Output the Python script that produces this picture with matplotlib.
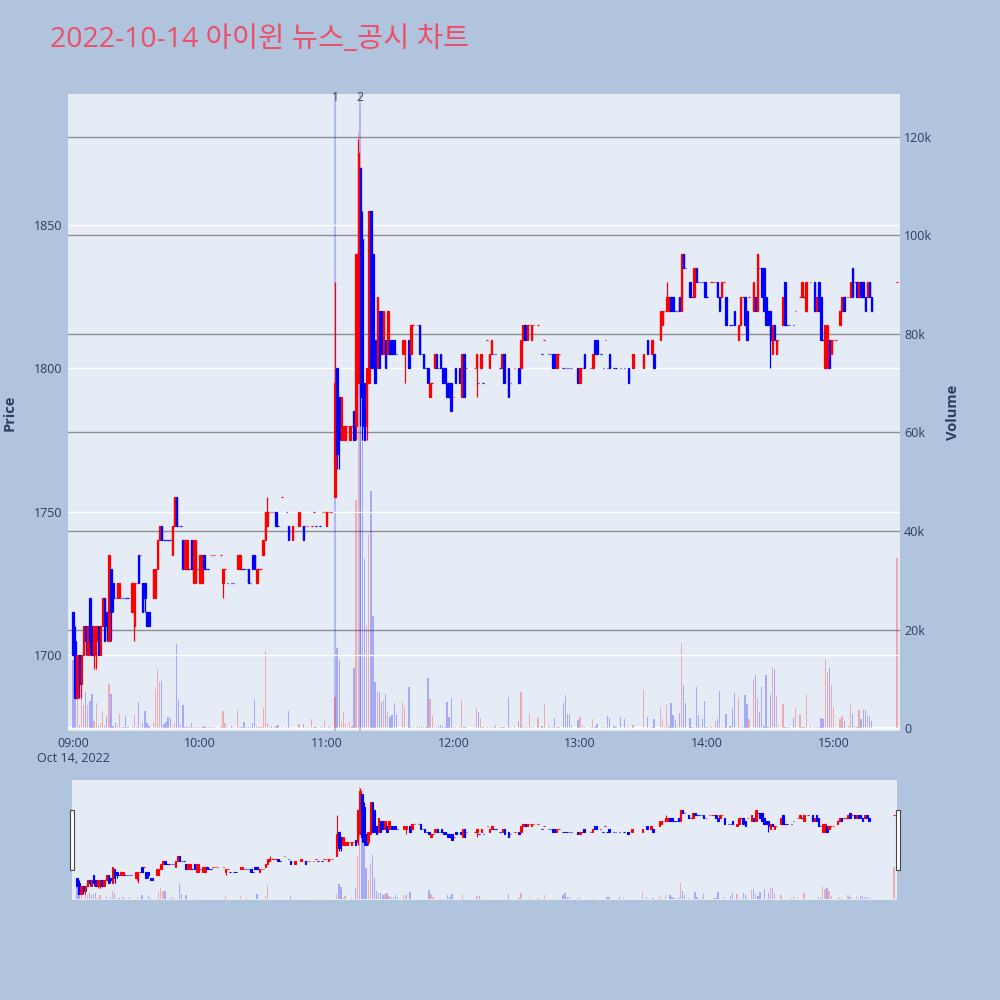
import numpy as np
import pandas as pd
import matplotlib
matplotlib.use("Agg")
import matplotlib.pyplot as plt
import matplotlib.dates as mdates
import matplotlib.transforms as mtransforms
from matplotlib.patches import Rectangle

# ---------------- data (1-minute candles, 2022-10-14) ----------------
trade_date = "2022-10-14"
title_text = "2022-10-14 아이윈 뉴스_공시 차트"

times = [
    "09:00", "09:01", "09:02", "09:03", "09:04", "09:05", "09:06", "09:07", "09:08", "09:09",
    "09:10", "09:11", "09:12", "09:13", "09:14", "09:15", "09:16", "09:17", "09:18", "09:19",
    "09:20", "09:21", "09:22", "09:23", "09:24", "09:25", "09:26", "09:28", "09:29", "09:30",
    "09:31", "09:32", "09:33", "09:34", "09:35", "09:36", "09:38", "09:39", "09:40", "09:41",
    "09:42", "09:43", "09:44", "09:45", "09:46", "09:47", "09:48", "09:49", "09:50", "09:51",
    "09:52", "09:53", "09:54", "09:55", "09:56", "09:57", "09:58", "09:59", "10:00", "10:01",
    "10:02", "10:03", "10:04", "10:05", "10:06", "10:07", "10:10", "10:11", "10:12", "10:13",
    "10:15", "10:16", "10:18", "10:19", "10:20", "10:21", "10:22", "10:23", "10:24", "10:25",
    "10:26", "10:27", "10:28", "10:29", "10:30", "10:31", "10:32", "10:33", "10:34", "10:35",
    "10:36", "10:37", "10:39", "10:41", "10:42", "10:44", "10:47", "10:49", "10:50", "10:51",
    "10:53", "10:54", "10:55", "10:57", "10:58", "10:59", "11:00", "11:01", "11:02", "11:04",
    "11:05", "11:06", "11:07", "11:08", "11:09", "11:10", "11:11", "11:12", "11:13", "11:14",
    "11:15", "11:16", "11:17", "11:18", "11:19", "11:20", "11:21", "11:22", "11:23", "11:24",
    "11:25", "11:26", "11:27", "11:28", "11:29", "11:30", "11:31", "11:32", "11:33", "11:36",
    "11:37", "11:39", "11:40", "11:41", "11:43", "11:44", "11:45", "11:46", "11:47", "11:48",
    "11:49", "11:50", "11:51", "11:52", "11:53", "11:54", "11:55", "11:56", "11:57", "11:58",
    "11:59", "12:00", "12:01", "12:03", "12:04", "12:05", "12:06", "12:10", "12:11", "12:12",
    "12:13", "12:14", "12:16", "12:17", "12:18", "12:19", "12:20", "12:22", "12:23", "12:24",
    "12:26", "12:27", "12:29", "12:31", "12:32", "12:33", "12:34", "12:35", "12:36", "12:37",
    "12:38", "12:40", "12:42", "12:43", "12:45", "12:46", "12:47", "12:48", "12:49", "12:50",
    "12:52", "12:53", "12:54", "12:55", "12:56", "12:59", "13:00", "13:01", "13:02", "13:05",
    "13:06", "13:07", "13:08", "13:10", "13:11", "13:12", "13:13", "13:14", "13:16", "13:17",
    "13:19", "13:21", "13:23", "13:25", "13:30", "13:32", "13:34", "13:35", "13:38", "13:39",
    "13:40", "13:41", "13:42", "13:43", "13:44", "13:45", "13:46", "13:47", "13:48", "13:49",
    "13:50", "13:52", "13:53", "13:54", "13:55", "13:56", "13:57", "13:58", "13:59", "14:00",
    "14:02", "14:03", "14:04", "14:05", "14:06", "14:07", "14:08", "14:09", "14:11", "14:12",
    "14:13", "14:15", "14:16", "14:17", "14:18", "14:19", "14:20", "14:22", "14:23", "14:24",
    "14:25", "14:26", "14:27", "14:28", "14:29", "14:30", "14:31", "14:32", "14:33", "14:34",
    "14:36", "14:37", "14:38", "14:39", "14:41", "14:42", "14:44", "14:45", "14:46", "14:47",
    "14:49", "14:51", "14:52", "14:53", "14:54", "14:55", "14:56", "14:57", "14:58", "14:59",
    "15:00", "15:01", "15:03", "15:04", "15:05", "15:06", "15:07", "15:08", "15:09", "15:10",
    "15:11", "15:12", "15:13", "15:14", "15:15", "15:16", "15:17", "15:18", "15:30",
]

opens = [
    1715, 1705, 1685, 1700, 1690, 1700, 1710, 1700, 1720, 1710,
    1700, 1705, 1710, 1700, 1710, 1720, 1715, 1705, 1730, 1725,
    1720, 1720, 1720, 1720, 1720, 1720, 1720, 1715, 1710, 1725,
    1735, 1735, 1725, 1725, 1715, 1715, 1720, 1720, 1730, 1740,
    1745, 1740, 1740, 1740, 1740, 1735, 1745, 1755, 1745, 1745,
    1740, 1730, 1730, 1730, 1740, 1725, 1725, 1730, 1725, 1725,
    1735, 1730, 1730, 1735, 1735, 1735, 1735, 1725, 1730, 1725,
    1725, 1725, 1730, 1730, 1730, 1730, 1730, 1730, 1725, 1735,
    1735, 1725, 1730, 1730, 1735, 1740, 1745, 1750, 1750, 1750,
    1750, 1745, 1755, 1750, 1745, 1740, 1745, 1745, 1745, 1745,
    1745, 1750, 1745, 1745, 1750, 1750, 1745, 1750, 1750, 1755,
    1800, 1790, 1775, 1775, 1775, 1780, 1775, 1780, 1785, 1780,
    1795, 1870, 1845, 1795, 1780, 1795, 1855, 1840, 1810, 1800,
    1820, 1820, 1805, 1810, 1805, 1810, 1810, 1810, 1805, 1805,
    1805, 1810, 1805, 1815, 1815, 1815, 1805, 1805, 1800, 1800,
    1790, 1795, 1800, 1805, 1800, 1805, 1800, 1800, 1795, 1795,
    1795, 1790, 1800, 1800, 1790, 1805, 1800, 1800, 1800, 1795,
    1800, 1795, 1810, 1800, 1805, 1805, 1805, 1800, 1800, 1805,
    1800, 1795, 1800, 1800, 1800, 1810, 1815, 1810, 1815, 1810,
    1815, 1815, 1805, 1810, 1805, 1805, 1805, 1805, 1800, 1805,
    1800, 1800, 1800, 1800, 1800, 1800, 1795, 1800, 1805, 1800,
    1800, 1810, 1810, 1805, 1800, 1810, 1800, 1805, 1800, 1800,
    1800, 1800, 1800, 1800, 1800, 1810, 1805, 1805, 1810, 1815,
    1820, 1820, 1820, 1825, 1825, 1820, 1820, 1825, 1820, 1840,
    1835, 1830, 1825, 1825, 1835, 1830, 1830, 1830, 1830, 1825,
    1830, 1830, 1830, 1830, 1825, 1825, 1830, 1825, 1815, 1815,
    1820, 1810, 1815, 1825, 1825, 1820, 1825, 1820, 1825, 1820,
    1835, 1835, 1835, 1825, 1820, 1820, 1805, 1815, 1805, 1810,
    1815, 1830, 1815, 1815, 1815, 1820, 1825, 1825, 1825, 1820,
    1830, 1830, 1820, 1830, 1825, 1810, 1800, 1800, 1810, 1805,
    1810, 1810, 1815, 1820, 1825, 1825, 1825, 1825, 1835, 1830,
    1830, 1825, 1830, 1830, 1825, 1825, 1830, 1825, 1830,
]

highs = [
    1715, 1710, 1700, 1700, 1700, 1710, 1710, 1710, 1720, 1710,
    1710, 1710, 1710, 1710, 1720, 1720, 1715, 1735, 1730, 1725,
    1720, 1725, 1725, 1720, 1720, 1720, 1720, 1725, 1725, 1725,
    1735, 1735, 1725, 1725, 1715, 1715, 1730, 1730, 1740, 1745,
    1745, 1740, 1740, 1740, 1740, 1745, 1755, 1755, 1745, 1745,
    1740, 1740, 1740, 1730, 1740, 1740, 1740, 1730, 1735, 1735,
    1735, 1730, 1730, 1735, 1735, 1735, 1735, 1730, 1730, 1725,
    1725, 1725, 1735, 1735, 1730, 1730, 1730, 1730, 1725, 1735,
    1735, 1730, 1730, 1730, 1740, 1750, 1755, 1750, 1750, 1750,
    1750, 1745, 1755, 1750, 1745, 1745, 1750, 1745, 1745, 1745,
    1745, 1750, 1745, 1745, 1750, 1750, 1750, 1750, 1750, 1830,
    1800, 1790, 1790, 1780, 1780, 1780, 1780, 1780, 1785, 1840,
    1880, 1870, 1855, 1795, 1800, 1855, 1855, 1840, 1810, 1825,
    1820, 1820, 1820, 1810, 1820, 1810, 1810, 1810, 1805, 1810,
    1810, 1810, 1815, 1815, 1815, 1815, 1805, 1805, 1800, 1800,
    1795, 1795, 1805, 1805, 1800, 1805, 1800, 1800, 1795, 1795,
    1795, 1790, 1800, 1800, 1805, 1805, 1800, 1800, 1805, 1795,
    1805, 1795, 1810, 1805, 1810, 1805, 1805, 1800, 1805, 1805,
    1800, 1795, 1800, 1800, 1810, 1815, 1815, 1815, 1815, 1815,
    1815, 1815, 1805, 1810, 1805, 1805, 1805, 1805, 1805, 1805,
    1800, 1800, 1800, 1800, 1800, 1800, 1800, 1800, 1805, 1800,
    1805, 1810, 1810, 1805, 1800, 1810, 1800, 1805, 1800, 1800,
    1800, 1800, 1800, 1805, 1805, 1810, 1810, 1805, 1820, 1820,
    1820, 1830, 1825, 1825, 1825, 1820, 1820, 1825, 1840, 1840,
    1835, 1830, 1825, 1835, 1835, 1830, 1830, 1830, 1830, 1825,
    1830, 1830, 1830, 1830, 1825, 1830, 1830, 1825, 1815, 1815,
    1820, 1815, 1825, 1825, 1825, 1820, 1825, 1830, 1825, 1840,
    1835, 1835, 1835, 1825, 1820, 1820, 1815, 1815, 1810, 1810,
    1825, 1830, 1815, 1815, 1815, 1820, 1825, 1830, 1825, 1830,
    1830, 1830, 1825, 1830, 1825, 1810, 1815, 1815, 1810, 1810,
    1810, 1810, 1820, 1825, 1825, 1825, 1825, 1830, 1835, 1830,
    1830, 1830, 1830, 1830, 1825, 1830, 1830, 1825, 1830,
]

lows = [
    1700, 1685, 1685, 1685, 1685, 1700, 1700, 1700, 1700, 1700,
    1695, 1695, 1700, 1700, 1710, 1705, 1705, 1705, 1705, 1715,
    1720, 1720, 1720, 1720, 1720, 1720, 1720, 1715, 1705, 1725,
    1725, 1735, 1715, 1715, 1710, 1710, 1720, 1720, 1730, 1740,
    1740, 1740, 1740, 1740, 1740, 1735, 1745, 1745, 1745, 1745,
    1730, 1730, 1730, 1730, 1730, 1725, 1725, 1730, 1725, 1725,
    1730, 1730, 1730, 1735, 1735, 1735, 1735, 1720, 1730, 1725,
    1725, 1725, 1730, 1730, 1730, 1730, 1730, 1725, 1725, 1730,
    1730, 1725, 1730, 1730, 1735, 1740, 1745, 1750, 1750, 1750,
    1745, 1745, 1755, 1750, 1740, 1740, 1745, 1740, 1745, 1745,
    1745, 1750, 1745, 1745, 1750, 1750, 1745, 1750, 1750, 1755,
    1765, 1765, 1775, 1775, 1775, 1780, 1775, 1780, 1775, 1775,
    1795, 1780, 1775, 1775, 1775, 1795, 1800, 1800, 1795, 1800,
    1800, 1805, 1805, 1800, 1805, 1805, 1805, 1805, 1805, 1805,
    1795, 1800, 1805, 1815, 1815, 1805, 1805, 1800, 1800, 1795,
    1790, 1795, 1800, 1800, 1800, 1800, 1795, 1795, 1790, 1790,
    1785, 1790, 1795, 1795, 1790, 1790, 1800, 1800, 1790, 1795,
    1800, 1795, 1810, 1800, 1805, 1805, 1805, 1800, 1800, 1795,
    1790, 1795, 1800, 1795, 1800, 1810, 1810, 1810, 1815, 1810,
    1815, 1815, 1805, 1810, 1805, 1805, 1800, 1800, 1800, 1805,
    1800, 1800, 1800, 1800, 1800, 1795, 1795, 1800, 1800, 1800,
    1800, 1805, 1805, 1805, 1800, 1810, 1800, 1800, 1800, 1800,
    1800, 1800, 1795, 1800, 1800, 1805, 1805, 1800, 1810, 1815,
    1820, 1820, 1820, 1820, 1820, 1820, 1820, 1820, 1820, 1835,
    1835, 1825, 1825, 1825, 1830, 1830, 1830, 1830, 1825, 1825,
    1830, 1830, 1830, 1825, 1820, 1825, 1830, 1815, 1815, 1815,
    1815, 1810, 1815, 1825, 1815, 1810, 1825, 1820, 1820, 1820,
    1835, 1825, 1820, 1815, 1815, 1800, 1805, 1810, 1805, 1810,
    1815, 1815, 1815, 1815, 1815, 1820, 1825, 1825, 1825, 1820,
    1830, 1820, 1820, 1820, 1810, 1810, 1800, 1800, 1800, 1805,
    1810, 1810, 1815, 1820, 1820, 1825, 1825, 1825, 1825, 1830,
    1825, 1825, 1825, 1825, 1820, 1825, 1825, 1820, 1830,
]

closes = [
    1700, 1685, 1700, 1690, 1700, 1710, 1705, 1710, 1705, 1700,
    1710, 1710, 1700, 1710, 1720, 1705, 1710, 1735, 1715, 1720,
    1720, 1725, 1725, 1720, 1720, 1720, 1720, 1725, 1725, 1725,
    1725, 1735, 1715, 1720, 1710, 1710, 1730, 1730, 1740, 1745,
    1740, 1740, 1740, 1740, 1740, 1745, 1755, 1745, 1745, 1745,
    1730, 1740, 1740, 1730, 1730, 1740, 1740, 1730, 1735, 1735,
    1730, 1730, 1730, 1735, 1735, 1735, 1735, 1730, 1730, 1725,
    1725, 1725, 1735, 1735, 1730, 1730, 1730, 1725, 1725, 1730,
    1730, 1730, 1730, 1730, 1740, 1750, 1750, 1750, 1750, 1750,
    1745, 1745, 1755, 1750, 1740, 1745, 1750, 1740, 1745, 1745,
    1745, 1750, 1745, 1745, 1750, 1750, 1750, 1750, 1750, 1795,
    1770, 1775, 1790, 1780, 1780, 1780, 1780, 1780, 1775, 1840,
    1875, 1790, 1780, 1775, 1800, 1855, 1800, 1800, 1795, 1825,
    1800, 1805, 1820, 1800, 1820, 1805, 1805, 1805, 1805, 1810,
    1810, 1800, 1815, 1815, 1815, 1805, 1805, 1800, 1800, 1795,
    1795, 1795, 1805, 1800, 1800, 1800, 1795, 1795, 1790, 1790,
    1785, 1790, 1795, 1795, 1805, 1790, 1800, 1800, 1805, 1795,
    1805, 1795, 1810, 1805, 1810, 1805, 1805, 1800, 1805, 1795,
    1790, 1795, 1800, 1795, 1810, 1815, 1810, 1815, 1815, 1815,
    1815, 1815, 1805, 1810, 1805, 1805, 1800, 1800, 1805, 1805,
    1800, 1800, 1800, 1800, 1800, 1795, 1800, 1800, 1800, 1800,
    1805, 1805, 1805, 1805, 1800, 1810, 1800, 1800, 1800, 1800,
    1800, 1800, 1795, 1805, 1805, 1805, 1810, 1800, 1820, 1820,
    1820, 1825, 1825, 1820, 1820, 1820, 1820, 1820, 1840, 1835,
    1835, 1825, 1825, 1835, 1830, 1830, 1830, 1830, 1825, 1825,
    1830, 1830, 1830, 1825, 1820, 1830, 1830, 1815, 1815, 1815,
    1815, 1815, 1825, 1825, 1815, 1810, 1825, 1830, 1820, 1840,
    1835, 1825, 1820, 1815, 1815, 1810, 1815, 1810, 1810, 1810,
    1825, 1815, 1815, 1815, 1815, 1820, 1825, 1830, 1825, 1830,
    1830, 1820, 1825, 1820, 1810, 1810, 1815, 1815, 1800, 1810,
    1810, 1810, 1820, 1825, 1820, 1825, 1825, 1830, 1825, 1830,
    1825, 1830, 1825, 1825, 1820, 1830, 1825, 1820, 1830,
]

volume_k = [
    13.8, 16.5, 9.5, 0.7, 9.1, 4.7, 7.4, 4.7, 5.4, 7.0,
    1.5, 5.0, 0.5, 1.0, 3.4, 0.5, 2.5, 9.0, 7.0, 0.5,
    1.1, 0.4, 2.8, 0.3, 0.3, 2.5, 0.3, 0.4, 2.6, 0.3,
    5.2, 0.3, 1.0, 3.4, 1.1, 0.4, 1.0, 7.9, 11.9, 9.4,
    9.6, 0.8, 1.3, 2.2, 2.0, 0.5, 1.0, 17.0, 5.6, 0.7,
    4.7, 0.3, 0.3, 0.4, 1.1, 0.3, 0.3, 0.2, 0.3, 0.3,
    0.5, 0.3, 0.3, 0.3, 0.3, 0.3, 0.3, 3.4, 1.0, 0.3,
    0.5, 0.3, 3.7, 0.3, 0.3, 1.3, 0.3, 0.3, 0.3, 1.0,
    5.7, 0.5, 0.3, 0.3, 4.0, 15.7, 1.0, 0.3, 0.5, 0.3,
    0.5, 0.7, 0.2, 0.3, 3.5, 0.3, 0.8, 0.8, 0.3, 0.3,
    1.8, 0.3, 0.3, 0.3, 0.3, 1.5, 0.3, 0.5, 0.3, 6.4,
    16.3, 13.8, 1.3, 3.3, 0.8, 0.3, 1.3, 0.5, 12.1, 46.3,
    121.0, 70.0, 60.0, 34.3, 20.9, 39.3, 48.1, 22.8, 9.3, 7.4,
    7.4, 5.3, 5.7, 7.0, 3.3, 2.3, 2.6, 5.0, 2.8, 5.3,
    4.3, 8.4, 0.3, 0.3, 0.4, 0.3, 0.3, 0.3, 0.3, 10.1,
    5.8, 2.4, 0.3, 0.3, 0.5, 0.6, 0.5, 0.3, 5.3, 2.2,
    6.0, 0.3, 0.3, 0.3, 5.7, 0.3, 0.3, 0.3, 4.1, 3.2,
    2.0, 0.3, 0.3, 0.3, 0.3, 0.3, 0.7, 0.3, 0.3, 0.3,
    6.4, 0.3, 0.5, 1.5, 7.3, 0.3, 0.3, 0.3, 2.8, 0.3,
    0.3, 2.0, 0.5, 4.9, 0.5, 0.3, 0.3, 2.0, 0.3, 0.3,
    5.1, 6.7, 2.8, 2.8, 0.4, 1.6, 2.2, 0.7, 0.3, 0.3,
    1.8, 0.3, 0.9, 0.3, 0.3, 0.3, 2.5, 2.1, 0.5, 0.3,
    2.2, 1.8, 0.3, 0.6, 7.7, 2.2, 0.3, 1.8, 4.2, 1.9,
    0.3, 4.7, 0.5, 5.0, 2.6, 1.6, 0.3, 3.0, 17.2, 8.7,
    5.0, 2.0, 0.2, 0.3, 8.3, 2.6, 0.3, 1.9, 5.5, 0.3,
    0.3, 0.3, 1.4, 1.8, 7.6, 0.3, 0.3, 2.8, 0.5, 4.0,
    7.2, 6.0, 0.3, 0.4, 6.8, 4.9, 1.8, 10.0, 10.8, 6.0,
    3.2, 8.3, 0.4, 10.8, 0.3, 6.8, 12.3, 12.0, 6.5, 0.4,
    4.9, 0.3, 0.3, 0.3, 2.0, 4.1, 2.6, 0.3, 0.3, 6.9,
    0.4, 0.3, 0.3, 0.3, 2.1, 1.8, 14.1, 11.3, 12.1, 8.7,
    4.2, 0.3, 1.8, 2.4, 1.5, 0.3, 0.4, 4.7, 2.8, 0.5,
    0.3, 3.7, 1.9, 3.7, 3.7, 2.6, 2.4, 1.5, 34.5,
]

news_times = ["11:04", "11:16"]
news_labels = ["1", "2"]

hour_labels = ["09:00", "10:00", "11:00", "12:00", "13:00", "14:00", "15:00"]
date_label = "Oct 14, 2022"
price_ticks = [1700, 1750, 1800, 1850]
volume_ticks = [0, 20000, 40000, 60000, 80000, 100000, 120000]

# ---------------- derived ----------------
def to_num(ts_list):
    return mdates.date2num(pd.to_datetime([f"{trade_date} {t}" for t in ts_list]))

x = to_num(times)
o = np.array(opens, float)
h = np.array(highs, float)
l = np.array(lows, float)
c = np.array(closes, float)
vol = np.array(volume_k) * 1000.0

# plotly-like direction rule
inc = []
state, prev = True, None
for oo, cc in zip(o, c):
    if cc == oo:
        if prev is not None and cc != prev:
            state = cc > prev
    else:
        state = cc > oo
    inc.append(state)
    prev = cc
RED, BLUE = "#FF0000", "#0000FF"
cols = [RED if s else BLUE for s in inc]

MIN = 1.0 / 1440.0
x0 = to_num(["09:00"])[0]
xlim = (x0 - 2.37 * MIN, x0 + 391.4 * MIN)
plim = (1673.5, 1895.7)
vlim = (-600, 128700)

BG_FIG = "#B0C4DE"
BG_PLOT = "#E5ECF6"
TXT = "#2a3f5f"
TICKFONT = dict(family=["Open Sans", "DejaVu Sans"], size=9, color=TXT)

fig = plt.figure(figsize=(10, 10), dpi=100, facecolor=BG_FIG)


def setup_pair(rect):
    axp = fig.add_axes(rect)
    axv = axp.twinx()
    axv.set_zorder(1)
    axp.set_zorder(2)
    axp.patch.set_visible(False)
    axv.patch.set_visible(True)
    axv.set_facecolor(BG_PLOT)
    for a in (axp, axv):
        for s in a.spines.values():
            s.set_visible(False)
        a.set_xlim(*xlim)
    axp.set_ylim(*plim)
    axv.set_ylim(*vlim)
    return axp, axv


def draw(axp, axv, body_w, lw, vw):
    axv.bar(x, vol, width=vw * MIN, color=cols, alpha=0.28, linewidth=0, zorder=2)
    axp.vlines(x, l, h, colors=cols, linewidth=lw, zorder=3)
    axp.bar(x, np.abs(c - o), bottom=np.minimum(o, c), width=body_w * MIN,
            color=cols, edgecolor=cols, linewidth=lw, zorder=4)


# ---------------- main panel ----------------
ax_p, ax_v = setup_pair([0.068, 0.269, 0.832, 0.637])
draw(ax_p, ax_v, 0.7, 0.9, 0.62)

# gridlines
for t in price_ticks:
    ax_p.axhline(t, color="white", linewidth=1.0, zorder=0.5)
for t in volume_ticks[1:]:
    ax_v.axhline(t, color="#8f8f8f", linewidth=1.0, zorder=0.5)
ax_v.axhline(0, color="white", linewidth=1.6, zorder=0.6)

# news markers
xn = to_num(news_times)
trans = mtransforms.blended_transform_factory(ax_v.transData, ax_v.transAxes)
for xx, lab in zip(xn, news_labels):
    ax_v.axvline(xx, color=(0.0, 0.0, 1.0, 0.22), linewidth=1.5, zorder=1.5)
    ax_v.text(xx, 0.995, lab, transform=trans, ha="center", va="center",
              fontsize=9, color="#444444", family=["Open Sans", "DejaVu Sans"], zorder=6)

# ticks
ax_p.set_yticks(price_ticks)
ax_p.set_yticklabels([str(t) for t in price_ticks], **TICKFONT)
ax_v.set_yticks(volume_ticks)
ax_v.set_yticklabels(["0" if t == 0 else f"{t // 1000}k" for t in volume_ticks], **TICKFONT)
hx = to_num(hour_labels)
ax_p.set_xticks(hx)
ax_p.set_xticklabels([hour_labels[0] + "\n" + date_label] + hour_labels[1:],
                     linespacing=1.25, **TICKFONT)
for lab in ax_p.get_xticklabels()[:1]:
    lab.set_multialignment("center")
ax_p.tick_params(axis="both", length=0)
ax_p.tick_params(axis="y", pad=4)
ax_p.tick_params(axis="x", pad=4)
ax_v.tick_params(axis="y", length=0, pad=3)
ax_v.tick_params(axis="x", length=0, labelbottom=False)

fig.text(0.010, 0.5875, "Price", rotation=90, ha="center", va="center",
         fontsize=10.5, fontweight="bold", color=TXT, family=["Open Sans", "DejaVu Sans"])
fig.text(0.953, 0.5875, "Volume", rotation=90, ha="center", va="center",
         fontsize=10.5, fontweight="bold", color=TXT, family=["Open Sans", "DejaVu Sans"])

fig.text(0.050, 0.960, title_text, ha="left", va="center", fontsize=20.5,
         color="#EB5068", family=["Open Sans", "Noto Sans CJK KR", "DejaVu Sans"])

# ---------------- range slider ----------------
ax_sp, ax_sv = setup_pair([0.072, 0.100, 0.825, 0.120])
draw(ax_sp, ax_sv, 0.7, 0.8, 0.62)
for a in (ax_sp, ax_sv):
    a.set_xticks([])
    a.set_yticks([])

# slider handles
for hxp in (0.0695, 0.8955):
    fig.patches.append(Rectangle((hxp, 0.130), 0.004, 0.060, transform=fig.transFigure,
                                 facecolor="white", edgecolor="#444444", linewidth=0.8,
                                 zorder=10))

fig.savefig("out.png", dpi=100, facecolor=BG_FIG)
